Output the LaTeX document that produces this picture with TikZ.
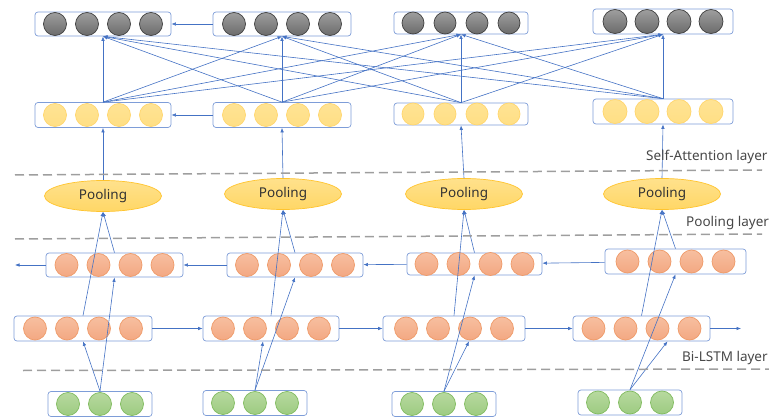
\documentclass[tikz,border=0pt]{standalone}
\usepackage{fontspec}
\setmainfont{Noto Sans}
\usetikzlibrary{arrows.meta,shapes.geometric}
\definecolor{linkblue}{HTML}{4472C4}
\definecolor{boxblue}{HTML}{7E9DD8}
\definecolor{poolfill}{HTML}{FFD766}
\definecolor{pooledge}{HTML}{FFC42E}
\definecolor{redtop}{HTML}{F7BFA0}
\definecolor{redbot}{HTML}{F3A882}
\definecolor{rededge}{HTML}{EF9A68}
\definecolor{grntop}{HTML}{B7D99F}
\definecolor{grnbot}{HTML}{9DCB81}
\definecolor{grnedge}{HTML}{80BB5E}
\tikzset{
  vec/.style={draw=boxblue,fill=white,rounded corners=3pt,line width=0.7pt,inner sep=0pt},
  ball/.style={circle,inner sep=0pt,line width=0.7pt},
  grayball/.style={ball,draw=black!75,top color=black!38,bottom color=black!58},
  yelball/.style={ball,draw=pooledge!70,top color=poolfill!70,bottom color=poolfill!80},
  redball/.style={ball,draw=rededge,top color=redtop,bottom color=redbot},
  grnball/.style={ball,draw=grnedge,top color=grntop,bottom color=grnbot},
  pool/.style={ellipse,draw=pooledge,line width=0.7pt,top color=poolfill!75,bottom color=poolfill,
    minimum width=117pt,minimum height=31pt,inner sep=0pt,text=black!80,font=\fontsize{13.5}{15}\selectfont},
  link/.style={linkblue,line width=0.6pt,-{Latex[length=4.5pt,width=3.5pt]}},
  sep/.style={draw=black!38,line width=1.5pt,dash pattern=on 9pt off 5pt},
  layer/.style={anchor=west,inner sep=0pt,text=black!72,font=\fontsize{13.5}{15}\selectfont},
}

\begin{document}
\begin{tikzpicture}[x=1pt,y=-1pt]
\useasboundingbox (0,0) rectangle (769,417);

% attention outputs
\foreach \n/\x/\y/\w/\h/\r in {1/103/24/136/24/23,2/282/24/138/24/23,3/461/23/134/22/22,4/663/21.5/140/25/24}{
  \node[vec,minimum width=\w pt,minimum height=\h pt] (g\n) at (\x,\y) {};
  \foreach \k [count=\i] in {-48,-16,16,48}
    \node[grayball,minimum size=\r pt] (g\n-\i) at ([xshift=\k pt]g\n.center) {};
}
% pooled sentence vectors
\foreach \n/\x/\y/\w/\h/\r in {1/103/115/136/25/23,2/282/115/138/25/23,3/461/114/134/22/22,4/663/111.5/140/25/24}{
  \node[vec,minimum width=\w pt,minimum height=\h pt] (y\n) at (\x,\y) {};
  \foreach \k [count=\i] in {-48,-16,16,48}
    \node[yelball,minimum size=\r pt] (y\n-\i) at ([xshift=\k pt]y\n.center) {};
}
\foreach \n/\x/\y in {1/103/196,2/283/194,3/464/194,4/662/194}
  \node[pool] (p\n) at (\x,\y) {Pooling};
% backward lstm
\foreach \n/\x/\y/\w/\h in {1/114.5/265/137/24,2/295/265/136/24,3/474.5/264/135/22,4/675.5/261.5/141/25}{
  \node[vec,minimum width=\w pt,minimum height=\h pt] (b\n) at (\x,\y) {};
  \foreach \k [count=\i] in {-48,-16,16,48}
    \node[redball,minimum size=23pt] (b\n-\i) at ([xshift=\k pt]b\n.center) {};
}
% forward lstm
\foreach \n/\x/\y/\w in {1/83/328.5/138,2/271/328.5/136,3/454/328.5/142,4/641.5/328.5/137}{
  \node[vec,minimum width=\w pt,minimum height=25pt] (f\n) at (\x,\y) {};
  \foreach \k [count=\i] in {-48,-16,16,48}
    \node[redball,minimum size=23pt] (f\n-\i) at ([xshift=\k pt]f\n.center) {};
}
% word embeddings
\foreach \n/\x/\y in {1/100/404,2/255/403,3/444/404,4/630/402.5}{
  \node[vec,minimum width=104pt,minimum height=25pt] (w\n) at (\x,\y) {};
  \foreach \k [count=\i] in {-32,0,32}
    \node[grnball,minimum size=23pt] (w\n-\i) at ([xshift=\k pt]w\n.center) {};
}

\coordinate (bout) at (15,265);
\coordinate (fout) at (741,328.5);

% connections
\foreach \i in {1,...,4}{
  \foreach \j in {1,...,4}
    \draw[link] (y\i.north) -- (g\j.south);
  \draw[link] (p\i.north) -- (y\i.south);
  \draw[link] (f\i.north) -- (p\i.south);
  \draw[link] (b\i.north) -- (p\i.south);
}
\foreach \i/\s in {1/0,2/-8,3/15,4/26}{
  \draw[link] (w\i.north) -- ([xshift=\s pt]f\i.south);
  \draw[link] (w\i.north) -- (b\i.south);
}
\draw[link] (g2) -- (g1);
\draw[link] (y2) -- (y1);
\draw[link] (b4) -- (b3);
\draw[link] (b3) -- (b2);
\draw[link] (b2) -- (b1);
\draw[link] (b1) -- (bout);
\draw[link] (f1) -- (f2);
\draw[link] (f2) -- (f3);
\draw[link] (f3) -- (f4);
\draw[link] (f4) -- (fout);

% layer borders
\draw[sep] (15,175) -- (762,170);
\draw[sep] (15,239) -- (762,234);
\draw[sep] (23,370.5) -- (769,369);
\node[layer] (lsa) at (646,157) {Self-Attention layer};
\node[layer] (lpool) at (686,223) {Pooling layer};
\node[layer] (llstm) at (682,358) {Bi-LSTM layer};
\end{tikzpicture}
\end{document}
